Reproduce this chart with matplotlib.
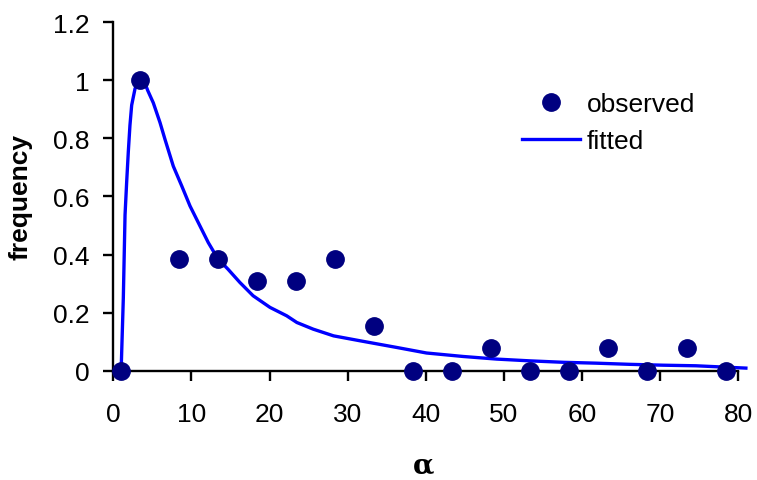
import matplotlib
matplotlib.use("Agg")
import matplotlib.pyplot as plt
from matplotlib.ticker import FuncFormatter

plt.rcParams['font.family'] = ['Liberation Sans', 'DejaVu Sans']

# observed frequencies
obs_x = [1.0, 3.4, 8.4, 13.4, 18.4, 23.4, 28.4, 33.4, 38.4, 43.4,
         48.4, 53.4, 58.4, 63.4, 68.4, 73.4, 78.4]
obs_y = [0.0, 1.0, 0.385, 0.385, 0.308, 0.308, 0.385, 0.154, 0.0, 0.0,
         0.077, 0.0, 0.0, 0.077, 0.0, 0.077, 0.0]

# fitted curve, points
fit_x = [1.0, 1.28, 1.5, 1.71, 1.92, 2.13, 2.35, 2.78, 3.33, 4.06, 4.4,
         5.12, 5.98, 6.62, 7.68, 8.76, 9.82, 11.1, 12.16, 13.37, 14.7,
         16.2, 17.9, 20.06, 22.2, 23.5, 25.6, 28.2, 31.6, 36.3, 40.1,
         44.8, 49.1, 53.3, 57.6, 61.8, 66.1, 70.4, 74.6, 81.0]
fit_y = [0.0, 0.25, 0.536, 0.65, 0.754, 0.845, 0.914, 0.971, 1.0, 0.989,
         0.965, 0.922, 0.854, 0.796, 0.704, 0.636, 0.567, 0.498, 0.441,
         0.386, 0.349, 0.304, 0.258, 0.218, 0.189, 0.166, 0.143, 0.120,
         0.103, 0.080, 0.061, 0.049, 0.040, 0.034, 0.029, 0.026, 0.022,
         0.019, 0.017, 0.009]

fs = 19

fig = plt.figure(figsize=(7.57, 4.81), dpi=100)
ax = fig.add_axes([0.1497, 0.2272, 0.975 - 0.1497, 0.952 - 0.2272])

ax.plot(obs_x, obs_y, 'o', color='#000080', markersize=12.5,
        label='observed', clip_on=False, zorder=3)
ax.plot(fit_x, fit_y, '-', color='#0000ff', linewidth=2.4,
        label='fitted', clip_on=False, zorder=2)

ax.set_xlim(0, 80)
ax.set_ylim(0, 1.2)
ax.set_xticks(range(0, 81, 10))
ax.set_yticks([0, 0.2, 0.4, 0.6, 0.8, 1.0, 1.2])
ax.yaxis.set_major_formatter(FuncFormatter(lambda v, p: '%g' % round(v, 1)))

for s in ['top', 'right']:
    ax.spines[s].set_visible(False)
for s in ['left', 'bottom']:
    ax.spines[s].set_linewidth(1.7)
    ax.spines[s].set_color('black')

ax.tick_params(direction='out', length=7.5, width=1.7, labelsize=fs)
ax.tick_params(axis='x', pad=15)
ax.tick_params(axis='y', pad=9.5)

ax.set_xlabel('α', fontsize=20, fontweight='bold',
              family=['DejaVu Serif', 'Liberation Serif'])
ax.xaxis.set_label_coords(0.497, -0.308)
ax.xaxis.label.set_va('bottom')

ax.set_ylabel('frequency', fontsize=fs, fontweight='bold')
ax.yaxis.set_label_coords(-0.148, 0.5)
ax.yaxis.label.set_va('center')

leg = ax.legend(loc='upper left', bbox_to_anchor=(0.637, 0.83), frameon=False,
                fontsize=fs, handlelength=2.2, handletextpad=0.25,
                labelspacing=0.5, borderaxespad=0)

fig.savefig('out.png', dpi=100)
